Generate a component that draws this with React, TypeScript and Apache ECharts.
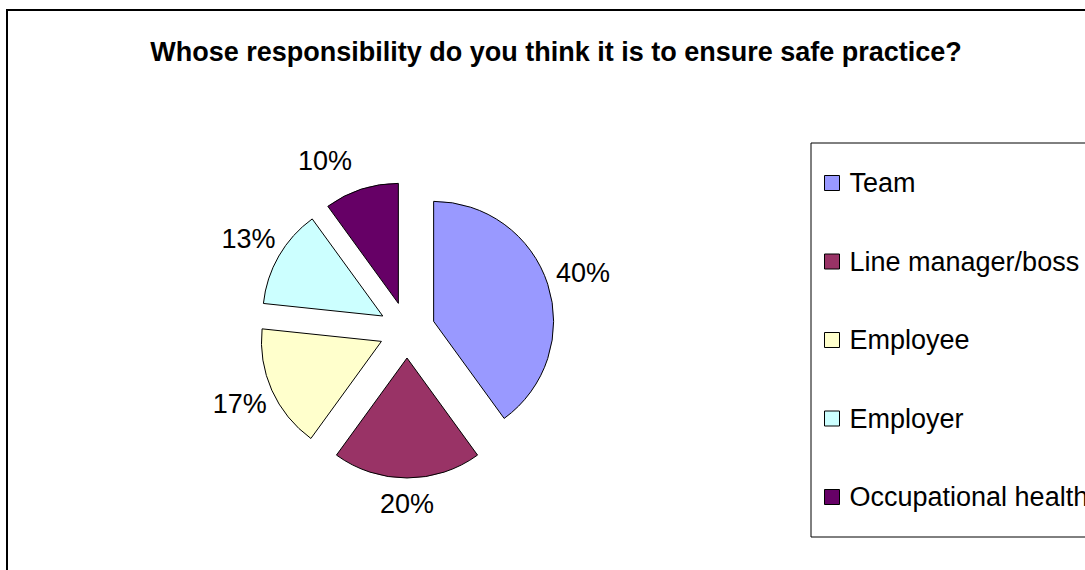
import React, { useEffect, useRef } from "react";
import * as echarts from "echarts";

const titleText = "Whose responsibility do you think it is to ensure safe practice?";
const categories = ["Team", "Line manager/boss", "Employee", "Employer", "Occupational health"];
const counts = [12, 6, 5, 4, 3];
const colors = ["#9999FF", "#993366", "#FFFFCC", "#CCFFFF", "#660066"];
const labelLengths = [37, 26, 35, 35, 30];
const labelAligns = ["center", "center", "center", "center", "right"];

const FONT = "'Liberation Sans', Arial, sans-serif";

export default function App() {
  const ref = useRef<HTMLDivElement>(null);
  useEffect(() => {
    if (!ref.current) return;
    const chart = echarts.init(ref.current, undefined, { renderer: "svg" });
    const data = categories.map((name, i) => ({
      name,
      value: counts[i],
      selected: true,
      itemStyle: { color: colors[i] },
      labelLine: { show: false, length: labelLengths[i], length2: 0 },
    }));
    chart.setOption({
      animation: false,
      backgroundColor: "#ffffff",
      graphic: [
        {
          type: "rect",
          z: 0,
          shape: { x: 7, y: 10, width: 1110, height: 620 },
          style: { fill: "none", stroke: "#000", lineWidth: 2 },
        },
        {
          type: "text",
          x: 556,
          y: 52,
          style: {
            text: titleText,
            font: `bold 27px ${FONT}`,
            fill: "#000",
            textAlign: "center",
            textVerticalAlign: "middle",
          },
        },
      ],
      legend: {
        orient: "vertical",
        left: 811,
        top: 143,
        padding: [26, 40, 26, 13],
        borderColor: "#000",
        borderWidth: 1,
        itemGap: 50.5,
        itemWidth: 15,
        itemHeight: 15,
        icon: "rect",
        itemStyle: { borderColor: "#000", borderWidth: 1 },
        textStyle: {
          fontSize: 27,
          fontFamily: FONT,
          color: "#000",
          lineHeight: 28,
          padding: [0, 0, 0, 5],
        },
        data: categories,
      },
      series: [
        {
          type: "pie",
          center: [407, 330],
          radius: 120,
          startAngle: 90,
          clockwise: true,
          selectedMode: "multiple",
          selectedOffset: 28,
          avoidLabelOverlap: false,
          percentPrecision: 0,
          emphasis: { disabled: true, scale: false },
          itemStyle: { borderColor: "#000", borderWidth: 1 },
          select: { itemStyle: { borderColor: "#000", borderWidth: 1 } },
          label: {
            show: true,
            position: "outside",
            formatter: "{d}%",
            fontSize: 27,
            fontFamily: FONT,
            color: "#000",
            distanceToLabelLine: 0,
          },
          labelLine: { show: false, length: 35, length2: 0 },
          labelLayout: (params: any) => ({
            align: labelAligns[params.dataIndex] || "center",
            verticalAlign: "middle",
          }),
          data,
        },
      ],
    });
    return () => chart.dispose();
  }, []);
  return (
    <div
      ref={ref}
      style={{ position: "absolute", left: 0, top: 0, width: 1085, height: 570 }}
    />
  );
}
